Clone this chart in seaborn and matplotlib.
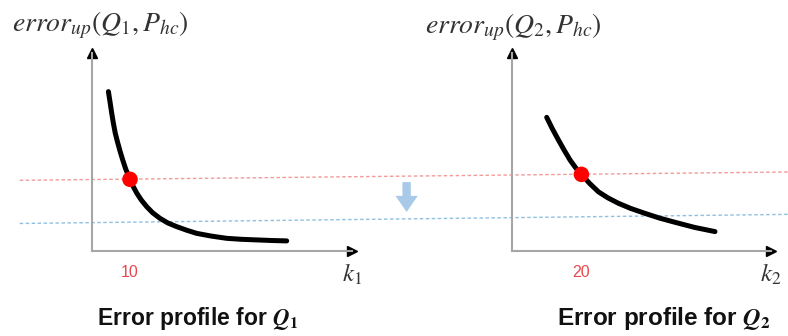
import numpy as np
import pandas as pd
import seaborn as sns
import matplotlib.pyplot as plt

# error profiles (k vs normalised error_up)
k1 = [4.32, 4.79, 5.18, 5.63, 6.11, 6.71, 7.37, 8.08, 8.87, 10.0, 10.84, 11.76,
      12.95, 14.39, 15.97, 17.89, 19.92, 22.29, 24.92, 27.55, 31.5, 35.45,
      39.4, 43.34, 47.29, 51.24]
err1 = [0.805, 0.747, 0.697, 0.645, 0.596, 0.551, 0.505, 0.460, 0.414, 0.362,
        0.326, 0.293, 0.258, 0.224, 0.193, 0.165, 0.142, 0.123, 0.105, 0.089,
        0.075, 0.064, 0.059, 0.056, 0.053, 0.051]
k2 = [10.0, 11.58, 13.37, 15.04, 16.71, 18.36, 20.0, 22.39, 24.9, 27.58, 30.66,
      34.2, 38.33, 42.56, 46.97, 52.65, 58.5]
err2 = [0.675, 0.619, 0.561, 0.509, 0.460, 0.420, 0.387, 0.341, 0.299, 0.269,
        0.241, 0.215, 0.190, 0.166, 0.145, 0.119, 0.098]
chosen_k = [10, 20]
chosen_err = [0.362, 0.387]
# dashed threshold lines, from left to right of the whole figure
line_x = [0.025, 1.0]
red_level = [0.357, 0.399]
blue_level = [0.139, 0.185]
top_titles = [r"$error_{up}(Q_1, P_{hc})$", r"$error_{up}(Q_2, P_{hc})$"]
bottom_titles = [r"Error profile for $\mathbfit{Q}_\mathbf{1}$",
                 r"Error profile for $\mathbfit{Q}_\mathbf{2}$"]
k_labels = [r"$k_1$", r"$k_2$"]

sns.set_style("white")
plt.rcParams["mathtext.fontset"] = "stix"
plt.rcParams["font.family"] = ["Liberation Sans", "DejaVu Sans"]

W, H = 788, 336
fig = plt.figure(figsize=(W / 100, H / 100), dpi=100)

# overlay for the thresholds and the down arrow, same y scale as the panels
ax0 = fig.add_axes([0, 0, 1, 1])
ax0.set_xlim(0, 1)
ax0.set_ylim((251 - 336) / 198, 251 / 198)
ax0.axis("off")
ax0.plot(line_x, red_level, color="#f29a9a", lw=1.0, ls=(0, (2.5, 1.8)))
ax0.plot(line_x, blue_level, color="#8fc0e0", lw=1.0, ls=(0, (2.5, 1.8)))
ax0.annotate("", xy=(0.516, 0.197), xytext=(0.516, 0.348),
             arrowprops=dict(arrowstyle="simple,head_width=0.8,head_length=0.58,tail_width=0.3",
                             color="#a9c9e8", lw=0, shrinkA=0, shrinkB=0,
                             mutation_scale=20))

ax1 = fig.add_axes([92 / W, 85 / H, 260 / W, 198 / H])
ax2 = fig.add_axes([512 / W, 85 / H, 259 / W, 198 / H])
ax1.set_xlim(0, 260 / 3.8)
ax2.set_xlim(0, 259 / 3.47)

panels = [(ax1, k1, err1), (ax2, k2, err2)]
for i, (ax, k, e) in enumerate(panels):
    ax.set_facecolor("none")
    ax.set_ylim(0, 1)
    sns.lineplot(x=k, y=e, ax=ax, color="black", lw=3.6, sort=False)
    sns.scatterplot(x=[chosen_k[i]], y=[chosen_err[i]], ax=ax, color="#ff0000",
                    s=125, edgecolor="none", zorder=5)
    for s in ["top", "right"]:
        ax.spines[s].set_visible(False)
    for s in ["left", "bottom"]:
        ax.spines[s].set_color("#a6a6a6")
        ax.spines[s].set_linewidth(1.5)
    ax.plot(1, 0, ">", color="black", ms=7, transform=ax.transAxes, clip_on=False)
    ax.plot(0, 1, "^", color="black", ms=7, transform=ax.transAxes, clip_on=False)
    ax.set_yticks([])
    ax.set_xticks([chosen_k[i]])
    ax.set_xticklabels([str(chosen_k[i])], color="#e8474f", fontsize=11.5)
    ax.tick_params(axis="x", direction="in", length=4, width=1, color="#a6a6a6", pad=10)
    ax.set_xlabel("")
    ax.set_ylabel("")
    ax.text(1.0, -0.12, k_labels[i], transform=ax.transAxes, ha="center",
            va="center", fontsize=18, color="#333333")

fig.text(12 / W, 1 - 25 / H, top_titles[0], ha="left", va="center", fontsize=20, color="#333333")
fig.text(425 / W, 1 - 27 / H, top_titles[1], ha="left", va="center", fontsize=20, color="#333333")
fig.text(198 / W, 1 - 318 / H, bottom_titles[0], ha="center", va="center",
         fontsize=16.5, fontweight="bold", color="#111111")
fig.text(664 / W, 1 - 318 / H, bottom_titles[1], ha="center", va="center",
         fontsize=17.5, fontweight="bold", color="#111111")

fig.savefig("out.png", dpi=100)
